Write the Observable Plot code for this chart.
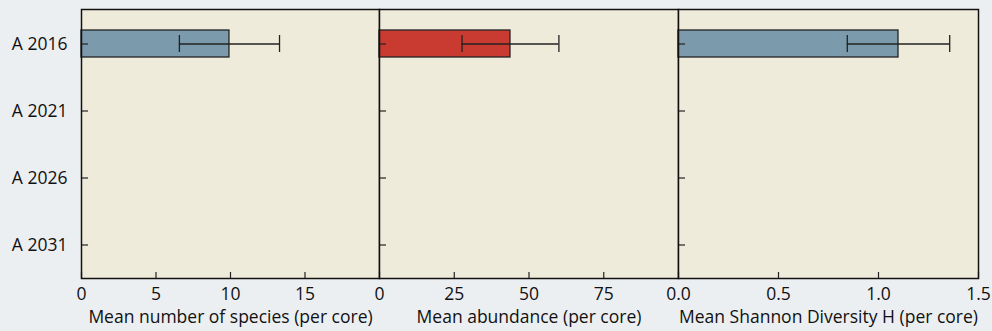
<!DOCTYPE html>
<html>
<head>
<meta charset="utf-8">
<script src="https://cdn.jsdelivr.net/npm/d3@7"></script>
<script src="https://cdn.jsdelivr.net/npm/@observablehq/plot@0.6"></script>
<style>
  html, body { margin: 0; padding: 0; background: #eceff2; }
  #row { display: flex; flex-direction: row; align-items: flex-start; }
  #row svg { overflow: visible; display: block; }
  #row svg text { font-family: 'Open Sans', sans-serif; font-size: 17.5px; fill: #111; }
</style>
</head>
<body>
<div id="row"></div>
<script>
const categories = ["A 2016", "A 2021", "A 2026", "A 2031"];

const speciesMean = [9.93, 0, 0, 0];
const speciesErr  = [3.36, 0, 0, 0];
const abundanceMean = [43.8, 0, 0, 0];
const abundanceErr  = [16.2, 0, 0, 0];
const shannonMean = [1.10, 0, 0, 0];
const shannonErr  = [0.256, 0, 0, 0];

const panels = [
  {label: "Mean number of species (per core)", mean: speciesMean, err: speciesErr, domain: [0, 20], ticks: [0, 5, 10, 15], fmt: d => String(d), color: "#7b9aab", width: 379, ml: 81, mr: 0, yLabels: true},
  {label: "Mean abundance (per core)", mean: abundanceMean, err: abundanceErr, domain: [0, 100], ticks: [0, 25, 50, 75], fmt: d => String(d), color: "#c93a31", width: 299, ml: 0, mr: 0, yLabels: false},
  {label: "Mean Shannon Diversity H (per core)", mean: shannonMean, err: shannonErr, domain: [0, 1.5], ticks: [0, 0.5, 1, 1.5], fmt: d => d.toFixed(1), color: "#7b9aab", width: 314, ml: 0, mr: 14, yLabels: false}
];

const row = document.getElementById("row");
for (const p of panels) {
  const data = categories.map((c, i) => ({cat: c, mean: p.mean[i], lo: p.mean[i] - p.err[i], hi: p.mean[i] + p.err[i]}));
  const shown = data.filter(d => d.mean > 0);
  const chart = Plot.plot({
    width: p.width,
    height: 331,
    marginTop: 9,
    marginBottom: 53,
    marginLeft: p.ml,
    marginRight: p.mr,
    style: {fontFamily: "'Open Sans', sans-serif", fontSize: "17.5px", color: "#111", background: "transparent", overflow: "visible"},
    x: {domain: p.domain},
    y: {domain: categories, padding: 0},
    marks: [
      Plot.frame({fill: "#efebdb"}),
      Plot.barX(shown, {x: "mean", y: "cat", fill: p.color, stroke: "#222", strokeWidth: 1.3, insetTop: 20, insetBottom: 20}),
      Plot.ruleY(shown, {y: "cat", x1: "lo", x2: "hi", stroke: "#222", strokeWidth: 1.3}),
      Plot.tickX(shown, {x: "lo", y: "cat", stroke: "#222", strokeWidth: 1.3, insetTop: 25, insetBottom: 25}),
      Plot.tickX(shown, {x: "hi", y: "cat", stroke: "#222", strokeWidth: 1.3, insetTop: 25, insetBottom: 25}),
      Plot.tickX(p.ticks, {x: d => d, stroke: "#222", strokeWidth: 1.2, insetTop: 263}),
      Plot.tickY(categories, {y: d => d, stroke: "#222", strokeWidth: 1.2, insetRight: p.width - p.ml - p.mr - 7}),
      Plot.axisX(p.ticks, {tickSize: 0, tickPadding: 9, tickFormat: p.fmt, label: p.label, labelAnchor: "center", labelArrow: "none", labelOffset: 44}),
      p.yLabels ? Plot.axisY({tickSize: 0, tickPadding: 14, label: null}) : Plot.axisY({ticks: [], label: null}),
      Plot.frame({stroke: "#111", strokeWidth: 1.5})
    ]
  });
  row.appendChild(chart);
}
</script>
</body>
</html>
